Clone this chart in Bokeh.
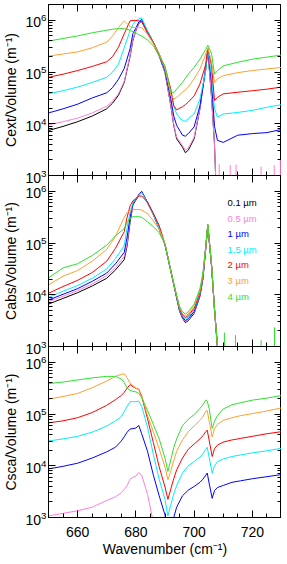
import numpy as np
from bokeh.plotting import figure
from bokeh.layouts import column
from bokeh.models import LogAxis, LinearAxis, FixedTicker, Label, Range1d
from bokeh.embed import file_html
from bokeh.resources import INLINE

# ---------------- data (log10 of value per volume, m^-1) ----------------
sizes = ["0.1 \u00b5m", "0.5 \u00b5m", "1 \u00b5m", "1.5 \u00b5m", "2 \u00b5m", "3 \u00b5m", "4 \u00b5m"]
colors = ["#000000", "#ff7fd8", "#0000ff", "#00ecff", "#ff0000", "#ffa030", "#2ee02e"]

# Panel 1: Cext/Volume
wn1 = [650, 655, 660, 665, 670, 672, 674, 676, 678, 679, 680, 681, 682, 684, 686, 688, 690, 692, 693, 694,
       696, 697, 698, 700, 702, 704, 704.7, 706, 707, 708, 710, 715, 720, 725, 730]
cext_01 = [3.87, 3.95, 4.04, 4.15, 4.29, 4.40, 4.55, 4.80, 5.30, 5.62, 5.80, 5.94, 5.99, 5.76, 5.57, 5.31, 4.99, 4.35,
           3.97, 3.71, 3.55, 3.44, 3.49, 3.71, 4.29, 5.12, 5.42, 4.50, 3.60, 2.0, 2.0, 2.0, 2.0, 2.0, 2.0]
cext_05 = [3.98, 4.04, 4.11, 4.21, 4.34, 4.44, 4.58, 4.82, 5.32, 5.64, 5.81, 5.95, 6.00, 5.76, 5.57, 5.31, 4.99, 4.36,
           3.99, 3.74, 3.58, 3.49, 3.53, 3.74, 4.30, 5.12, 5.42, 4.50, 3.60, 2.0, 2.0, 2.0, 2.0, 2.0, 2.0]
cext_1 = [4.21, 4.29, 4.38, 4.50, 4.60, 4.70, 4.86, 5.07, 5.45, 5.75, 5.85, 5.97, 6.02, 5.79, 5.58, 5.33, 5.03, 4.48,
          4.15, 3.97, 3.78, 3.76, 3.81, 3.94, 4.35, 5.05, 5.42, 4.80, 3.95, 3.68, 3.64, 3.78, 3.81, 3.83, 3.89]
cext_15 = [4.58, 4.64, 4.71, 4.80, 4.90, 5.00, 5.15, 5.47, 5.80, 5.92, 5.99, 6.03, 6.05, 5.79, 5.58, 5.35, 5.06, 4.61,
           4.35, 4.19, 4.06, 4.05, 4.10, 4.19, 4.48, 5.03, 5.44, 4.93, 4.29, 4.13, 4.19, 4.22, 4.26, 4.32, 4.37]
cext_2 = [4.90, 4.96, 5.03, 5.11, 5.20, 5.30, 5.48, 5.74, 5.99, 6.00, 6.00, 5.99, 5.97, 5.76, 5.57, 5.35, 5.09, 4.67,
          4.35, 4.27, 4.33, 4.37, 4.42, 4.54, 4.77, 5.15, 5.46, 5.12, 4.45, 4.51, 4.58, 4.61, 4.64, 4.67, 4.71]
cext_3 = [5.31, 5.35, 5.39, 5.47, 5.58, 5.70, 5.86, 5.99, 5.88, 5.86, 5.86, 5.87, 5.86, 5.73, 5.55, 5.35, 5.09, 4.55,
          4.48, 4.51, 4.61, 4.66, 4.71, 4.87, 5.06, 5.35, 5.47, 5.19, 4.80, 4.87, 4.93, 4.99, 5.03, 5.06, 5.09]
cext_4 = [5.60, 5.65, 5.70, 5.76, 5.81, 5.83, 5.84, 5.84, 5.81, 5.78, 5.76, 5.72, 5.70, 5.62, 5.51, 5.31, 5.12, 4.62,
          4.60, 4.67, 4.80, 4.88, 4.96, 5.09, 5.25, 5.44, 5.52, 5.35, 4.96, 5.03, 5.12, 5.19, 5.25, 5.29, 5.33]
cext_spike_wn = [708.6, 712.4, 714.4, 723.0, 727.5, 729.6]      # 0.5 um noise spikes
cext_spike_top = [3.22, 3.20, 3.21, 3.17, 3.20, 3.31]

# Panel 2: Cabs/Volume
wn2 = [650, 655, 660, 665, 670, 673, 676, 677, 678, 679, 680, 681, 682, 684, 686, 688, 690, 692, 694, 695,
       696, 697, 698, 700, 702, 703, 704, 704.7, 706, 707, 708, 709, 710, 720, 730]
cabs_01 = [3.82, 3.93, 4.04, 4.17, 4.32, 4.48, 4.68, 4.95, 5.40, 5.74, 5.83, 5.92, 5.99, 5.78, 5.55, 5.27, 4.97,
           4.46, 3.94, 3.68, 3.55, 3.46, 3.50, 3.64, 3.97, 4.30, 4.90, 5.34, 4.55, 3.72, 3.00, 2.0, 2.0, 2.0, 2.0]
cabs_05 = [3.87, 3.97, 4.08, 4.21, 4.37, 4.53, 4.74, 5.00, 5.45, 5.76, 5.84, 5.93, 5.99, 5.78, 5.55, 5.27, 4.97,
           4.46, 3.95, 3.69, 3.56, 3.48, 3.52, 3.66, 3.98, 4.31, 4.90, 5.34, 4.55, 3.72, 3.00, 2.0, 2.0, 2.0, 2.0]
cabs_1 = [3.90, 4.01, 4.12, 4.26, 4.42, 4.60, 4.82, 5.12, 5.50, 5.77, 5.85, 5.94, 6.00, 5.79, 5.56, 5.28, 4.97,
          4.46, 3.95, 3.70, 3.57, 3.50, 3.54, 3.68, 4.00, 4.32, 4.91, 5.35, 4.55, 3.72, 3.00, 2.0, 2.0, 2.0, 2.0]
cabs_15 = [3.95, 4.07, 4.18, 4.32, 4.50, 4.70, 4.95, 5.30, 5.60, 5.78, 5.85, 5.93, 5.98, 5.78, 5.55, 5.28, 4.97,
           4.46, 3.96, 3.71, 3.59, 3.53, 3.57, 3.71, 4.02, 4.34, 4.92, 5.35, 4.55, 3.72, 3.00, 2.0, 2.0, 2.0, 2.0]
cabs_2 = [4.03, 4.16, 4.28, 4.43, 4.65, 4.90, 5.22, 5.50, 5.72, 5.82, 5.86, 5.91, 5.91, 5.79, 5.58, 5.34, 4.98,
          4.46, 3.97, 3.73, 3.61, 3.56, 3.60, 3.74, 4.05, 4.36, 4.92, 5.35, 4.56, 3.72, 3.00, 2.0, 2.0, 2.0, 2.0]
cabs_3 = [4.19, 4.36, 4.47, 4.65, 4.88, 5.13, 5.50, 5.59, 5.63, 5.65, 5.65, 5.65, 5.64, 5.57, 5.43, 5.27, 4.99,
          4.46, 3.98, 3.75, 3.64, 3.59, 3.63, 3.78, 4.08, 4.38, 4.93, 5.36, 4.57, 3.72, 3.00, 2.0, 2.0, 2.0, 2.0]
cabs_4 = [4.33, 4.52, 4.60, 4.76, 4.96, 5.14, 5.28, 5.40, 5.48, 5.51, 5.51, 5.51, 5.50, 5.41, 5.32, 5.20, 4.98,
          4.46, 3.99, 3.78, 3.67, 3.63, 3.67, 3.82, 4.12, 4.42, 4.95, 5.37, 4.58, 3.73, 3.00, 2.0, 2.0, 2.0, 2.0]
cabs_spike_wn = [710.4, 714.2, 723.0, 727.6]                    # 4 um noise spikes
cabs_spike_top = [3.27, 3.22, 3.12, 3.37]

# Panel 3: Csca/Volume (0.1 um lies below the plotted range)
wn3 = [650, 655, 660, 665, 670, 673, 675, 676, 677, 678, 679, 680, 681, 682, 684, 686, 688, 690, 691, 692,
       693, 694, 696, 698, 700, 702, 703, 704, 704.5, 705.2, 706.2, 707, 708, 710, 713, 716, 720, 725, 730]
csca_05 = [3.03, 3.08, 3.13, 3.20, 3.33, 3.40, 3.48, 3.54, 3.62, 3.74, 3.78, 3.80, 3.87, 3.82, 3.45, 2.90, 2.50,
           2.0, 2.0, 2.0, 2.0, 2.0, 2.0, 2.0, 2.0, 2.0, 2.0, 2.0, 2.0, 2.0, 2.0, 2.0, 2.0, 2.0, 2.0, 2.0, 2.0, 2.0, 2.0]
csca_1 = [3.94, 3.99, 4.05, 4.15, 4.27, 4.36, 4.48, 4.56, 4.65, 4.71, 4.72, 4.73, 4.78, 4.62, 4.28, 3.82, 3.42,
          3.05, 2.70, 2.80, 3.00, 3.20, 3.42, 3.53, 3.60, 3.68, 3.74, 3.82, 3.86, 3.65, 3.37, 3.52, 3.58, 3.62,
          3.68, 3.71, 3.75, 3.79, 3.83]
csca_15 = [4.48, 4.52, 4.57, 4.65, 4.77, 4.87, 4.95, 5.05, 5.15, 5.24, 5.24, 5.24, 5.25, 5.15, 4.75, 4.22, 3.74,
           3.35, 3.03, 3.25, 3.45, 3.62, 3.86, 4.00, 4.08, 4.17, 4.23, 4.32, 4.36, 4.15, 3.86, 4.00, 4.08, 4.13,
           4.18, 4.21, 4.25, 4.29, 4.34]
csca_2 = [4.83, 4.87, 4.93, 5.03, 5.17, 5.28, 5.36, 5.42, 5.50, 5.57, 5.53, 5.50, 5.48, 5.34, 4.91, 4.45, 3.98,
          3.59, 3.35, 3.55, 3.75, 3.92, 4.15, 4.32, 4.42, 4.52, 4.58, 4.66, 4.69, 4.48, 4.18, 4.33, 4.40, 4.46,
          4.50, 4.53, 4.57, 4.62, 4.66]
csca_3 = [5.29, 5.34, 5.40, 5.51, 5.64, 5.73, 5.77, 5.78, 5.70, 5.60, 5.55, 5.50, 5.48, 5.36, 4.97, 4.66, 4.33,
          3.97, 3.73, 3.90, 4.10, 4.28, 4.50, 4.66, 4.77, 4.88, 4.95, 5.05, 5.07, 4.85, 4.56, 4.72, 4.80, 4.88,
          4.93, 4.97, 5.01, 5.06, 5.12]
csca_4 = [5.59, 5.62, 5.66, 5.70, 5.73, 5.73, 5.68, 5.61, 5.50, 5.46, 5.44, 5.43, 5.40, 5.32, 5.07, 4.80, 4.52,
          4.15, 3.89, 4.12, 4.35, 4.52, 4.78, 4.90, 4.99, 5.11, 5.18, 5.27, 5.25, 5.10, 4.72, 4.86, 4.97, 5.10,
          5.18, 5.22, 5.27, 5.31, 5.36]

x_major = [660, 680, 700, 720]
x_minor = list(range(650, 731, 5))
y_major = [1e3, 1e4, 1e5, 1e6]
y_minor = [m * 10.0 ** e for e in range(3, 7) for m in range(2, 10)]

X_RANGE = (650, 730)
Y_RANGE = (1e3, 2.03e6)
FONT = "Liberation Sans"
OVERLAP = 11
FRAME_H = 171


def style_axis(ax):
    ax.axis_line_color = "black"
    ax.axis_line_width = 1
    ax.major_tick_line_color = "black"
    ax.minor_tick_line_color = "black"
    ax.major_tick_in = 7
    ax.major_tick_out = 0
    ax.minor_tick_in = 4
    ax.minor_tick_out = 0
    ax.major_label_text_font = FONT
    ax.major_label_text_color = "black"
    ax.major_label_text_font_size = "14px"
    ax.axis_label_text_font = FONT
    ax.axis_label_text_font_style = "normal"
    ax.axis_label_text_color = "black"
    ax.axis_label_text_font_size = "14px"


def mirror_axis(ax):
    # tick-only axis drawn on the frame edge (no labels, takes no space)
    style_axis(ax)
    ax.major_label_text_color = None
    ax.major_label_standoff = 0


def make_panel(ylabel, wn, series, show_x):
    p = figure(frame_width=233, frame_height=FRAME_H,
               x_range=Range1d(*X_RANGE), y_range=Range1d(*Y_RANGE),
               y_axis_type="log", x_axis_location=None, y_axis_location=None,
               output_backend="svg", toolbar_location=None, min_border=0,
               min_border_bottom=(0 if show_x else OVERLAP),
               background_fill_color="white", border_fill_color=None,
               outline_line_color="black")
    p.grid.visible = False

    left = LogAxis(ticker=FixedTicker(ticks=y_major, minor_ticks=y_minor), axis_label=ylabel)
    style_axis(left)
    left.major_label_standoff = 2
    left.axis_label_standoff = 3
    p.add_layout(left, "left")

    right = LogAxis(ticker=FixedTicker(ticks=y_major, minor_ticks=y_minor), fixed_location=X_RANGE[1])
    mirror_axis(right)
    p.add_layout(right, "right")

    top = LinearAxis(ticker=FixedTicker(ticks=x_major, minor_ticks=x_minor), fixed_location=Y_RANGE[1])
    mirror_axis(top)
    p.add_layout(top, "above")

    if show_x:
        bottom = LinearAxis(ticker=FixedTicker(ticks=x_major, minor_ticks=x_minor),
                            axis_label="Wavenumber (cm\u207b\u00b9)")
        style_axis(bottom)
        bottom.major_label_standoff = 9
        bottom.axis_label_standoff = 1
    else:
        bottom = LinearAxis(ticker=FixedTicker(ticks=x_major, minor_ticks=x_minor), fixed_location=Y_RANGE[0])
        mirror_axis(bottom)
    p.add_layout(bottom, "below")

    for vals, col in series:
        if vals is None:
            continue
        p.line(wn, [10.0 ** v for v in vals], line_color=col, line_width=1)
    return p


p1 = make_panel("Cext/Volume (m\u207b\u00b9)", wn1,
                list(zip([cext_01, cext_05, cext_1, cext_15, cext_2, cext_3, cext_4], colors)), False)
p1.segment(x0=cext_spike_wn, y0=[Y_RANGE[0]] * len(cext_spike_wn), x1=cext_spike_wn,
           y1=[10.0 ** v for v in cext_spike_top], line_color=colors[1], line_width=1)

p2 = make_panel("Cabs/Volume (m\u207b\u00b9)", wn2,
                list(zip([cabs_01, cabs_05, cabs_1, cabs_15, cabs_2, cabs_3, cabs_4], colors)), False)
p2.segment(x0=cabs_spike_wn, y0=[Y_RANGE[0]] * len(cabs_spike_wn), x1=cabs_spike_wn,
           y1=[10.0 ** v for v in cabs_spike_top], line_color=colors[6], line_width=1)

# legend as coloured text (screen units relative to the frame)
for i, (lab, col) in enumerate(zip(sizes, colors)):
    p2.add_layout(Label(x=179, y=FRAME_H - 27 - 15.6 * i, x_units="screen", y_units="screen",
                        text=lab, text_color=col, text_font=FONT, text_font_size="9.5px",
                        text_baseline="middle", text_align="left"))

p3 = make_panel("Csca/Volume (m\u207b\u00b9)", wn3,
                list(zip([None, csca_05, csca_1, csca_15, csca_2, csca_3, csca_4], colors)), True)

p1.margin = (4, 0, 0, 0)
p2.margin = (-OVERLAP, 0, 0, 0)
p3.margin = (-OVERLAP, 0, 0, 0)

layout = column(p1, p2, p3, spacing=0)
open("out.html", "w").write(file_html(layout, INLINE))
